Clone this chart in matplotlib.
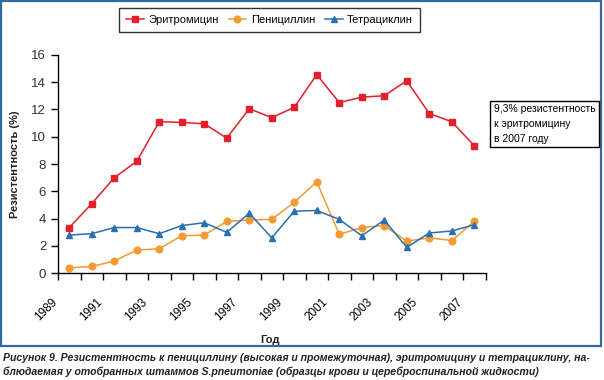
import numpy as np
import matplotlib.pyplot as plt
from matplotlib.patches import Rectangle
from matplotlib.transforms import ScaledTranslation

years = np.arange(1989, 2008)
erythro = [3.35, 5.1, 7.0, 8.2, 11.1, 11.05, 10.95, 9.9, 12.05, 11.4, 12.15,
           14.55, 12.5, 12.9, 13.0, 14.1, 11.7, 11.1, 9.35]
penic = [0.4, 0.5, 0.9, 1.7, 1.8, 2.75, 2.8, 3.8, 3.9, 3.95, 5.2,
         6.7, 2.85, 3.35, 3.5, 2.35, 2.6, 2.4, 3.8]
tetra = [2.8, 2.9, 3.35, 3.35, 2.9, 3.5, 3.7, 3.0, 4.4, 2.6, 4.55,
         4.6, 3.95, 2.75, 3.9, 1.9, 2.95, 3.1, 3.55]
label_years = years[::2]

plt.rcParams['font.family'] = ['Liberation Sans', 'DejaVu Sans']

fig = plt.figure(figsize=(6.04, 3.8), dpi=100)
ax = fig.add_axes([58/604, 1-273.3/380, 427.5/604, 218.5/380])

ax.plot(years, erythro, color='#e2202b', marker='s', ms=4.5, lw=1.1, label='Эритромицин')
ax.plot(years, penic, color='#f39a32', marker='o', ms=4.8, lw=1.1, label='Пенициллин')
ax.plot(years, tetra, color='#2a6fae', marker='^', ms=3.8, lw=1.1, label='Тетрациклин')

ax.set_xlim(1988.5, 2007.5)
ax.set_ylim(0, 16)
ax.set_yticks(np.arange(0, 17, 2))
ax.set_xticks(np.arange(1988.5, 2008, 1))
ax.set_xticklabels([])
ax.set_xticks(label_years, minor=True)
ax.set_xticklabels([str(y) for y in label_years], minor=True, rotation=45,
                   ha='center', va='center', fontsize=8.5)
ax.tick_params(axis='x', which='minor', length=0, pad=26)
ax.tick_params(axis='both', which='major', length=5, width=1, labelsize=9.5,
               color='black', labelcolor='#333333')
for lab in ax.get_xticklabels(minor=True):
    lab.set_transform(lab.get_transform() + ScaledTranslation(-0.23, 0, fig.dpi_scale_trans))
for s in ['top', 'right']:
    ax.spines[s].set_visible(False)
ax.spines['left'].set_linewidth(1)
ax.spines['bottom'].set_linewidth(1)

ax.set_ylabel('Резистентность (%)', fontsize=8, fontweight='bold',
              color='#222222', labelpad=8)
fig.text(270/604, 1-340/380, 'Год', fontsize=8, fontweight='bold',
         color='#222222', ha='center', va='center')

leg = fig.legend(loc='center', bbox_to_anchor=(269.5/604, 1-20/380), ncol=3,
                 fontsize=8, frameon=True, fancybox=False, edgecolor='black',
                 handlelength=1.6, handletextpad=0.4, columnspacing=0.9,
                 borderpad=0.6)
leg.get_frame().set_linewidth(1)

fig.text(494/604, 1-124/380, '9,3% резистентность\nк эритромицину\nв 2007 году',
         fontsize=7.5, ha='left', va='center', linespacing=1.6,
         bbox=dict(boxstyle='square,pad=0.35', fc='white', ec='black', lw=1))

fig.patches.append(Rectangle((1/604, 1-346/380), 600/604, 345/380,
                             transform=fig.transFigure, fill=False,
                             ec='#2f6aa3', lw=1.6))

fig.text(3/604, 1-358/380,
         'Рисунок 9. Резистентность к пенициллину (высокая и промежуточная), эритромицину и тетрациклину, на-',
         fontsize=7.6, fontweight='bold', style='italic', color='#222222',
         ha='left', va='center')
fig.text(3/604, 1-372/380,
         'блюдаемая у отобранных штаммов S.pneumoniae (образцы крови и цереброспинальной жидкости)',
         fontsize=7.6, fontweight='bold', style='italic', color='#222222',
         ha='left', va='center')

fig.savefig('out.png', dpi=100)
